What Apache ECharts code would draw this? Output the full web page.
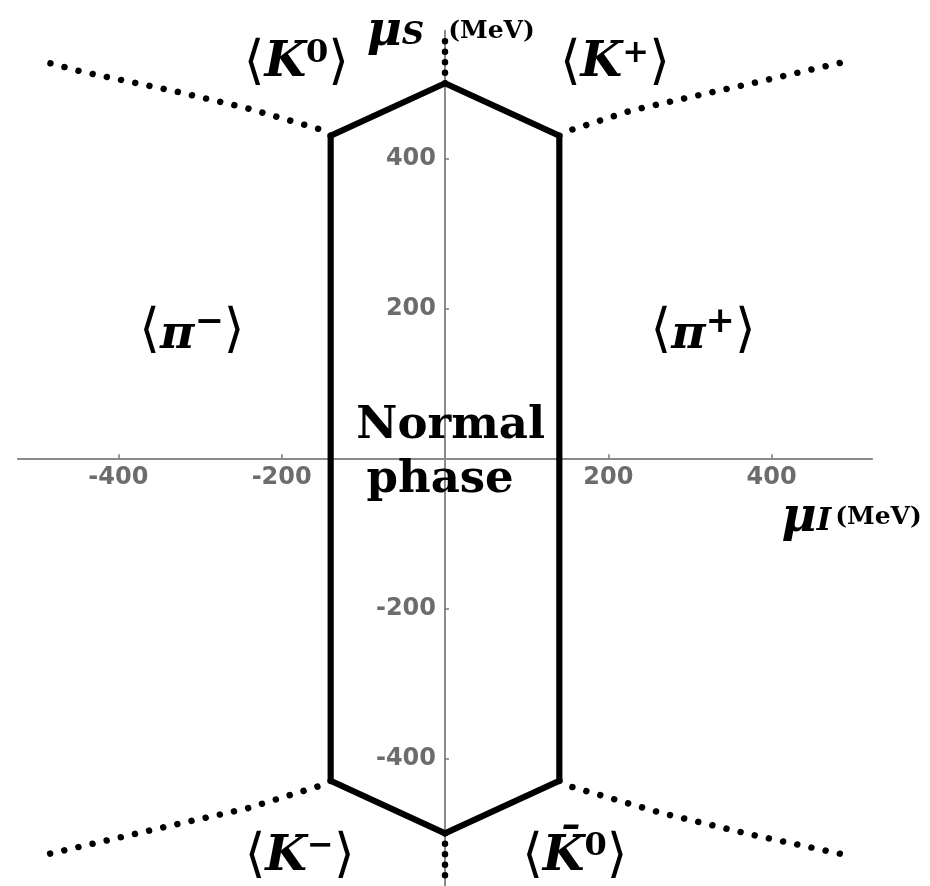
<!DOCTYPE html>
<html>
<head>
<meta charset="utf-8">
<script src="https://cdn.jsdelivr.net/npm/echarts@6/dist/echarts.min.js"></script>
<style>
  html, body { margin: 0; padding: 0; background: #ffffff; }
  #chart { width: 930px; height: 886px; }
</style>
</head>
<body>
<div id="chart"></div>
<script>
// Boundary of the normal phase in the (mu_I, mu_S) plane, MeV
const normalPhase = [[140, 430], [0, 500], [-140, 430], [-140, -430], [0, -500], [140, -430], [140, 430], [0, 500]];

// Pion / kaon condensate boundaries (dotted)
const upperRight = [[140, 430], [155, 438], [229, 464], [302, 482], [376, 500], [487, 528]];
const upperLeft  = [[-140, 430], [-151, 438], [-243, 467], [-333, 490], [-443, 515], [-498, 531]];
const lowerLeft  = [[-140, -430], [-151, -436], [-243, -467], [-333, -489], [-499, -531]];
const lowerRight = [[140, -430], [155, -438], [265, -473], [376, -502], [487, -528]];
const upperAxis  = [[0, 500], [0, 565]];
const lowerAxis  = [[0, -500], [0, -570]];

// Axis ranges and tick values
const xRange = [-523, 523];
const yRange = [-570, 570];
const xTicks = [-400, -200, 200, 400];
const yTicks = [-400, -200, 200, 400];

// Region labels and where they sit (data coordinates)
const regionText = [
  '{br|⟨}{k|K}{sup|0}{br|⟩}',
  '{br|⟨}{k|K}{sup|+}{br|⟩}',
  '{br|⟨}{p|π}{psup|−}{br|⟩}',
  '{br|⟨}{p|π}{psup|+}{br|⟩}',
  '{br|⟨}{k|K}{sup|−}{br|⟩}',
  '{br|⟨}{k|K̄}{sup|0}{br|⟩}',
  '{n|Normal}',
  '{n|phase}',
  '{mu|μ}{sub|S}{gap|}{unit|(MeV)}',
  '{mu|μ}{sub|I}{unit|(MeV)}'
];
const regionAt = [
  [-182, 526], [208, 526], [-310, 168], [316, 168], [-178, -532], [159, -532],
  [7, 42], [-6, -30], [7, 568], [498, -80]
];

const W = 930, H = 886;
const grid = { left: 17.9, right: 57.9, top: 30.8, bottom: 0.2 };
// Shift the axes so they cross at the origin
const plotW = W - grid.left - grid.right;
const plotH = H - grid.top - grid.bottom;
const yAxisShift = -plotW * (0 - xRange[0]) / (xRange[1] - xRange[0]);
const xAxisShift = -plotH * (0 - yRange[0]) / (yRange[1] - yRange[0]);

const ink = '#000';
const serif = 'DejaVu Serif';
const rich = {
  br:   { fontFamily: 'DejaVu Sans', fontSize: 53, fontWeight: 'normal', color: ink },
  k:    { fontFamily: serif, fontSize: 48, fontWeight: 'bold', fontStyle: 'italic', color: ink },
  sup:  { fontFamily: serif, fontSize: 32, fontWeight: 'bold', color: ink, verticalAlign: 'top' },
  p:    { fontFamily: serif, fontSize: 47, fontWeight: 'bold', fontStyle: 'italic', color: ink, padding: [6, 0, 0, 0] },
  psup: { fontFamily: serif, fontSize: 35, fontWeight: 'bold', color: ink, verticalAlign: 'top' },
  n:    { fontFamily: serif, fontSize: 45, fontWeight: 'bold', color: ink },
  mu:   { fontFamily: serif, fontSize: 48, fontWeight: 'bold', fontStyle: 'italic', color: ink },
  sub:  { fontFamily: serif, fontSize: 31, fontWeight: 'bold', fontStyle: 'italic', color: ink, padding: [8, 4, 0, 0] },
  gap:  { width: 20 },
  unit: { fontFamily: serif, fontSize: 25, fontWeight: 'bold', color: ink, padding: [0, 0, 2, 0] }
};

function dotted(data, gap) {
  return {
    type: 'line', data: data, symbol: 'none', silent: true, z: 3,
    lineStyle: { color: '#000', width: 6.5, type: [0.01, gap], cap: 'round' }
  };
}

const chart = echarts.init(document.getElementById('chart'), null, { renderer: 'canvas' });

const axisLabelStyle = {
  color: '#6c6c6c', fontFamily: 'DejaVu Sans', fontWeight: 'bold', fontSize: 24
};

chart.setOption({
  backgroundColor: '#ffffff',
  animation: false,
  grid: Object.assign({ containLabel: false, outerBoundsMode: 'none' }, grid),
  xAxis: {
    type: 'value', min: xRange[0], max: xRange[1], position: 'bottom', offset: xAxisShift,
    axisLine: { onZero: false, lineStyle: { color: '#8a8a8a', width: 2 } },
    axisTick: { show: true, inside: true, length: 4, customValues: xTicks, lineStyle: { color: '#777', width: 1.5 } },
    axisLabel: Object.assign({ customValues: xTicks, margin: 7 }, axisLabelStyle),
    splitLine: { show: false }
  },
  yAxis: {
    type: 'value', min: yRange[0], max: yRange[1], position: 'left', offset: yAxisShift,
    axisLine: { onZero: false, lineStyle: { color: '#8a8a8a', width: 2 } },
    axisTick: { show: true, inside: true, length: 4, customValues: yTicks, lineStyle: { color: '#777', width: 1.5 } },
    axisLabel: Object.assign({ customValues: yTicks, margin: 9 }, axisLabelStyle),
    splitLine: { show: false }
  },
  series: [
    dotted(upperRight, 14.5),
    dotted(upperLeft, 14.5),
    dotted(lowerLeft, 14.5),
    dotted(lowerRight, 14.5),
    dotted(upperAxis, 10.5),
    dotted(lowerAxis, 10.5),
    {
      type: 'line', data: normalPhase, symbol: 'none', silent: true, z: 4,
      lineStyle: { color: '#000', width: 6.2, join: 'miter' }
    },
    {
      type: 'scatter', symbolSize: 0, silent: true, z: 5,
      itemStyle: { opacity: 1 },
      data: regionAt.map((c, i) => ({ value: c, name: regionText[i] })),
      label: { show: true, position: 'inside', formatter: '{b}', rich: rich }
    }
  ]
});
</script>
</body>
</html>
